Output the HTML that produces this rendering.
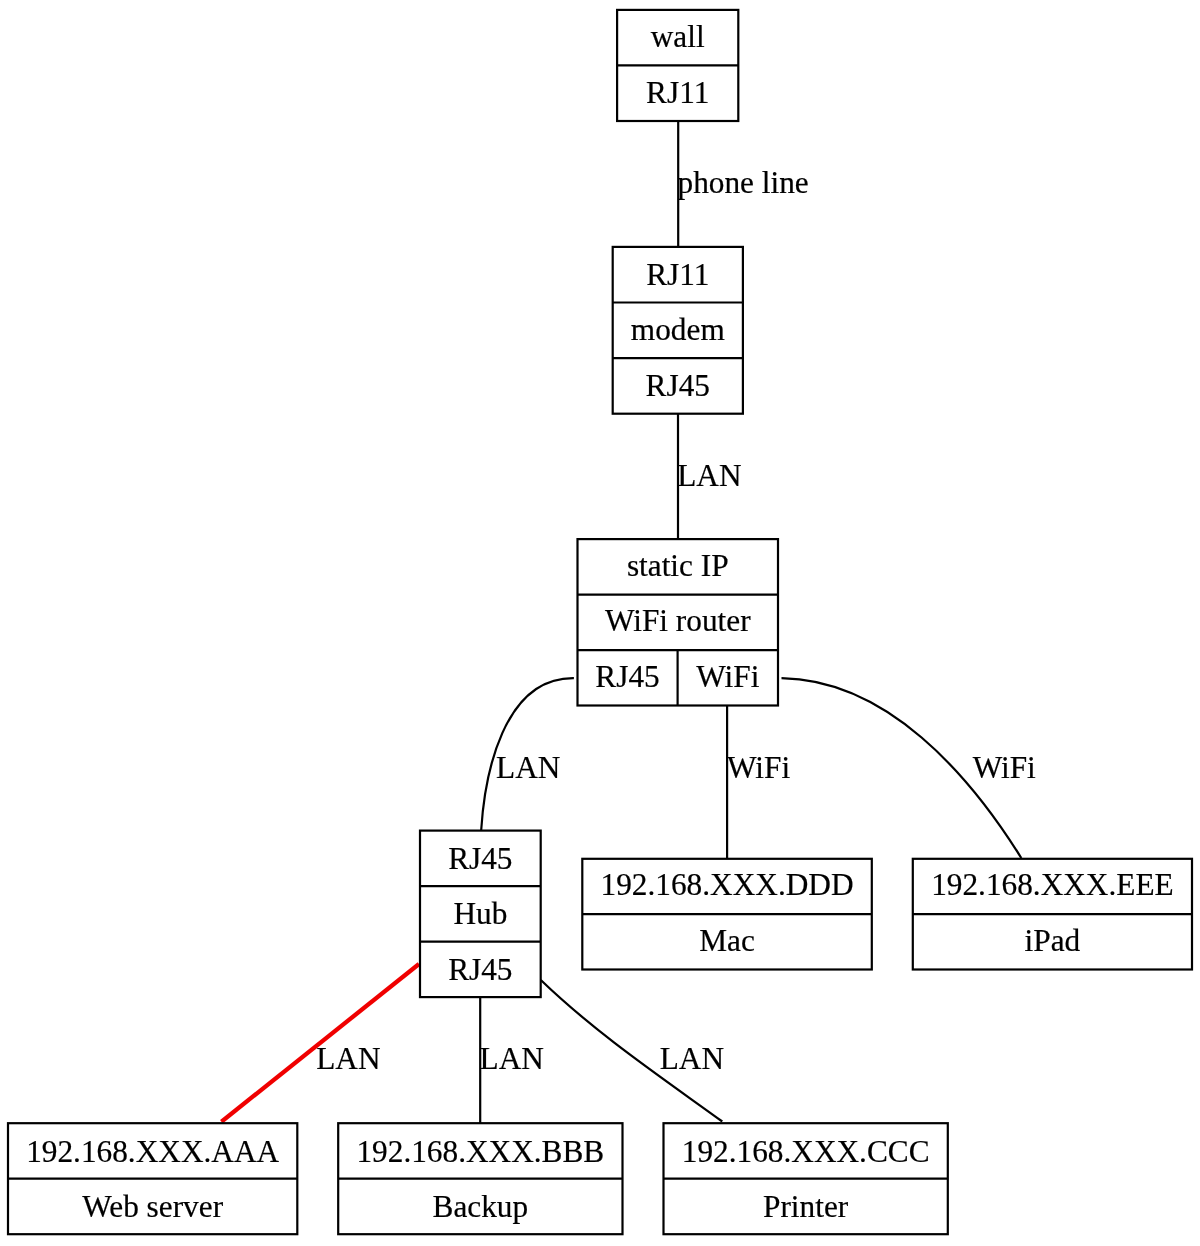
<!DOCTYPE html>
<html><head><meta charset="utf-8"><style>
html,body{margin:0;padding:0;background:#fff;width:1200px;height:1246px;overflow:hidden;}
svg{display:block;will-change:transform;font-family:"Liberation Serif", serif;}
</style></head><body>
<svg width="1200" height="1246" viewBox="0 0 1200 1246">
<rect width="1200" height="1246" fill="#fff"/>
<g fill="none" stroke="#000" stroke-width="2.2">
<path d="M678.2,121 L678.2,246.9"/>
<path d="M678,413.7 L678,539.1"/>
<path d="M573.9,678.1 C503.1,677.3 484.7,774.9 481.2,830"/>
<path d="M727.1,705.5 L727.1,858.8"/>
<path d="M781.5,678.2 C887.2,679.8 969.4,774.9 1021.3,858"/>
<path d="M480.2,997 L480.2,1123.2"/>
<path d="M540.8,980 C596.2,1033.4 660.2,1076.5 722.3,1121.5"/>
<path d="M419,964 L221.4,1121.7" stroke="#f00000" stroke-width="4.3"/>
</g>
<g fill="none" stroke="#000" stroke-width="2.2">
<rect x="617.1" y="9.9" width="121.20" height="111.10"/>
<line x1="617.1" y1="65.45" x2="738.3" y2="65.45"/>
<rect x="612.7" y="246.9" width="130.20" height="166.80"/>
<line x1="612.7" y1="302.50" x2="742.9" y2="302.50"/>
<line x1="612.7" y1="358.10" x2="742.9" y2="358.10"/>
<rect x="577.5" y="539.1" width="200.50" height="166.40"/>
<line x1="577.5" y1="594.57" x2="778.0" y2="594.57"/>
<line x1="577.5" y1="650.03" x2="778.0" y2="650.03"/>
<line x1="677.6" y1="650.03" x2="677.6" y2="705.5"/>
<rect x="420.0" y="830.6" width="120.70" height="166.50"/>
<line x1="420.0" y1="886.10" x2="540.7" y2="886.10"/>
<line x1="420.0" y1="941.60" x2="540.7" y2="941.60"/>
<rect x="582.3" y="858.8" width="289.50" height="110.70"/>
<line x1="582.3" y1="914.15" x2="871.8" y2="914.15"/>
<rect x="912.8" y="858.8" width="279.20" height="110.70"/>
<line x1="912.8" y1="914.15" x2="1192.0" y2="914.15"/>
<rect x="8.0" y="1123.2" width="289.30" height="111.00"/>
<line x1="8.0" y1="1178.70" x2="297.3" y2="1178.70"/>
<rect x="338.2" y="1123.2" width="284.30" height="111.00"/>
<line x1="338.2" y1="1178.70" x2="622.5" y2="1178.70"/>
<rect x="663.5" y="1123.2" width="284.30" height="111.00"/>
<line x1="663.5" y1="1178.70" x2="947.8" y2="1178.70"/>
</g>
<g font-family="Liberation Serif" font-size="31.3" text-anchor="middle" fill="#000" stroke="#000" stroke-width="0.2">
<text x="677.70" y="47.17">wall</text>
<text x="677.70" y="102.72">RJ11</text>
<text x="677.80" y="284.60">RJ11</text>
<text x="677.80" y="340.20">modem</text>
<text x="677.80" y="395.80">RJ45</text>
<text x="677.75" y="575.93">static IP</text>
<text x="677.75" y="631.40">WiFi router</text>
<text x="627.55" y="686.87">RJ45</text>
<text x="727.80" y="686.87">WiFi</text>
<text x="480.35" y="868.95">RJ45</text>
<text x="480.35" y="924.45">Hub</text>
<text x="480.35" y="979.95">RJ45</text>
<text x="727.05" y="895.37">192.168.XXX.DDD</text>
<text x="727.05" y="950.73">Mac</text>
<text x="1052.40" y="895.37">192.168.XXX.EEE</text>
<text x="1052.40" y="950.73">iPad</text>
<text x="152.65" y="1161.55">192.168.XXX.AAA</text>
<text x="152.65" y="1217.05">Web server</text>
<text x="480.35" y="1161.55">192.168.XXX.BBB</text>
<text x="480.35" y="1217.05">Backup</text>
<text x="805.65" y="1161.55">192.168.XXX.CCC</text>
<text x="805.65" y="1217.05">Printer</text>
</g>
<g font-family="Liberation Serif" font-size="31.3" text-anchor="start" fill="#000" stroke="#000" stroke-width="0.2">
<text x="677.5" y="193.3">phone line</text>
<text x="677.2" y="486.2">LAN</text>
<text x="496.1" y="777.6">LAN</text>
<text x="727.0" y="777.8">WiFi</text>
<text x="972.7" y="777.6">WiFi</text>
<text x="316.2" y="1069.0">LAN</text>
<text x="479.6" y="1068.8">LAN</text>
<text x="659.7" y="1069.0">LAN</text>
</g>
</svg>
</body></html>
